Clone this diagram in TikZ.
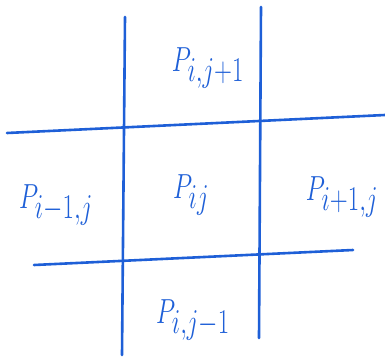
\documentclass[tikz,border=0pt]{standalone}
\usepackage{graphicx}
\definecolor{pen}{RGB}{30,95,215}
\tikzset{
  penline/.style={draw=pen, line width=2.6pt, line cap=round},
  lab/.style={text=pen, inner sep=0pt, font=\fontsize{36}{42}\selectfont}
}
\newcommand{\tallP}[1]{\scalebox{1}[1.4]{$#1$}}
\begin{document}
\begin{tikzpicture}[x=1pt,y=1pt]
\useasboundingbox (0,0) rectangle (385,360);
% vertical lines
\coordinate (v1t) at (125,343);
\coordinate (v1b) at (122,5);
\coordinate (v2t) at (261,353);
\coordinate (v2b) at (259,22);
% horizontal lines
\coordinate (h1l) at (7,227);
\coordinate (h1r) at (385,245);
\coordinate (h2l) at (34,95);
\coordinate (h2r) at (353,110);
\draw[penline] (v1t) -- (v1b);
\draw[penline] (v2t) -- (v2b);
\draw[penline] (h1l) -- (h1r);
\draw[penline] (h2l) -- (h2r);
% labels
\node[lab] (top) at (208,292) {\tallP{P_{i,j+1}}};
\node[lab] (left) at (56,155) {\tallP{P_{i-1,j}}};
\node[lab] (mid) at (191,165) {\tallP{P_{ij}}};
\node[lab] (right) at (342,163) {\tallP{P_{i+1,j}}};
\node[lab] (bot) at (193,40) {\tallP{P_{i,j-1}}};
\end{tikzpicture}
\end{document}
